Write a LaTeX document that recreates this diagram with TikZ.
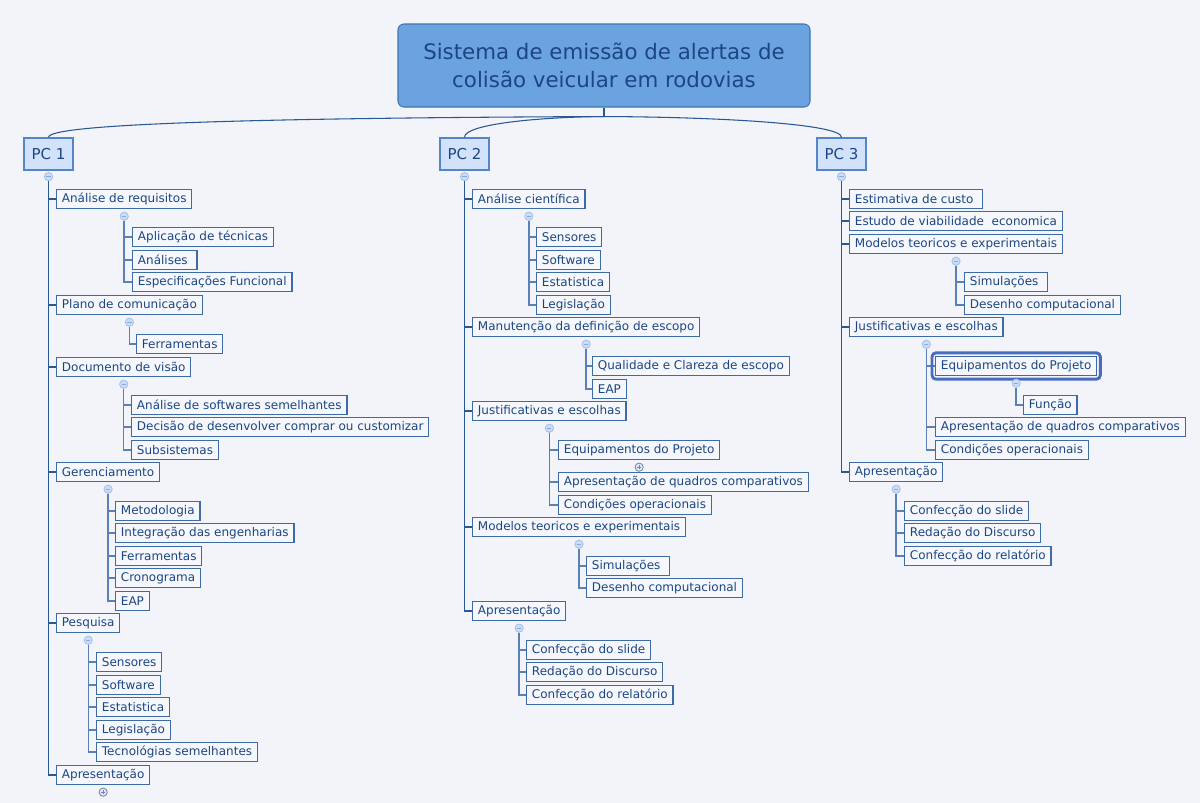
\documentclass[tikz,border=0pt]{standalone}
\usepackage{fontspec}
\setmainfont{DejaVu Sans}
\usetikzlibrary{calc}
\definecolor{bgc}{HTML}{F2F4FA}
\definecolor{txt}{HTML}{1C4683}
\definecolor{leafborder}{HTML}{3D6BA3}
\definecolor{leaffill}{HTML}{F5F7FC}
\definecolor{pcfill}{HTML}{D3E2FB}
\definecolor{pcborder}{HTML}{5585C2}
\definecolor{rootfill}{HTML}{6BA3E0}
\definecolor{rootborder}{HTML}{3F75B0}
\definecolor{lnc}{HTML}{2A5892}
\definecolor{lnlight}{HTML}{5A80B5}
\definecolor{togfill}{HTML}{CBDCF6}
\definecolor{togborder}{HTML}{A5C0EA}
\definecolor{togsign}{HTML}{8AAADB}
\definecolor{plusfill}{HTML}{E2E8F2}
\definecolor{plusborder}{HTML}{6F86AC}
\definecolor{hilite}{HTML}{4A6CC0}
\tikzset{
  leaf/.style={draw=leafborder, fill=leaffill, line width=0.9pt, text=txt,
    font=\fontsize{9}{11}\selectfont, anchor=west, inner xsep=4pt, inner ysep=0pt,
    minimum height=14.4pt},
  pcbox/.style={draw=pcborder, fill=pcfill, line width=1pt, text=txt,
    font=\fontsize{11.25}{13}\selectfont, minimum width=36.75pt, minimum height=24pt, inner sep=0pt},
  rootbox/.style={draw=rootborder, fill=rootfill, rounded corners=4.5pt, line width=0.8pt, text=txt,
    font=\fontsize{16}{21}\selectfont, minimum width=309pt, minimum height=62.25pt, align=center},
  tog/.style={circle, draw=togborder, fill=togfill, line width=0.6pt, inner sep=0pt, minimum size=6.2pt,
    path picture={\draw[togsign, line width=0.6pt] ([xshift=-1.6pt]path picture bounding box.center) -- ([xshift=1.6pt]path picture bounding box.center);}},
  plusc/.style={circle, draw=plusborder, fill=plusfill, line width=0.6pt, inner sep=0pt, minimum size=6.2pt,
    path picture={\draw[plusborder, line width=0.6pt] ([xshift=-1.7pt]path picture bounding box.center) -- ([xshift=1.7pt]path picture bounding box.center)
      ([yshift=-1.7pt]path picture bounding box.center) -- ([yshift=1.7pt]path picture bounding box.center);}},
  trunk/.style={draw=lnc, line width=1.4pt},
  branch/.style={draw=lnlight, line width=1.1pt},
  rootln/.style={draw=lnc, line width=0.8pt},
}
\begin{document}
\begin{tikzpicture}[x=0.75pt,y=-0.75pt]
\fill[bgc] (0,0) rectangle (1200,803);
\useasboundingbox (0,0) rectangle (1200,803);

% root and PCs
\node[rootbox] (root) at (604,65.5) {Sistema de emissão de alertas de\\colisão veicular em rodovias};
\node[pcbox] (pc1) at (48.5,154) {PC 1};
\node[pcbox] (pc2) at (464.5,154) {PC 2};
\node[pcbox] (pc3) at (841.5,154) {PC 3};
\draw[rootln] (root.south) -- ++(0,9) coordinate (rj);
\draw[rootln] (rj) .. controls (250,118) and (48,124) .. (pc1.north);
\draw[rootln] (rj) .. controls (540,117) and (464,124) .. (pc2.north);
\draw[rootln] (rj) .. controls (720,117) and (842,124) .. (pc3.north);

% ===== PC 1 =====
\node[tog] (t1) at ($(pc1.south)+(0,6)$) {};
\node[leaf] (a1) at (56,199) {Análise de requisitos};
\node[leaf] (a2) at (56,305) {Plano de comunicação};
\node[leaf] (a3) at (56,367) {Documento de visão};
\node[leaf] (a4) at (56,472) {Gerenciamento};
\node[leaf] (a5) at (56,623) {Pesquisa};
\node[leaf] (a6) at (56,775) {Apresentação};
\foreach \n in {a1,a2,a3,a4,a5,a6} \draw[trunk] (t1.south) |- (\n.west);
\node[plusc] (p16) at ($(a6.south)+(0,7)$) {};

\node[tog] (t11) at ($(a1.south)+(0,7)$) {};
\node[leaf] (a11) at (132,237) {Aplicação de técnicas};
\node[leaf] (a12) at (132,260) {Análises\kern3pt};
\node[leaf] (a13) at (132,282) {Especificações Funcional};
\foreach \n in {a11,a12,a13} \draw[branch] (t11.south) |- (\n.west);

\node[tog] (t12) at ($(a2.south)+(0,7)$) {};
\node[leaf] (a21) at (136,344) {Ferramentas};
\draw[branch] (t12.south) |- (a21.west);

\node[tog] (t13) at ($(a3.south)+(0,7)$) {};
\node[leaf] (a31) at (131,405) {Análise de softwares semelhantes};
\node[leaf] (a32) at (131,427) {Decisão de desenvolver comprar ou customizar};
\node[leaf] (a33) at (131,450) {Subsistemas};
\foreach \n in {a31,a32,a33} \draw[branch] (t13.south) |- (\n.west);

\node[tog] (t14) at ($(a4.south)+(0,7)$) {};
\node[leaf] (a41) at (115,511) {Metodologia};
\node[leaf] (a42) at (115,533) {Integração das engenharias};
\node[leaf] (a43) at (115,556) {Ferramentas};
\node[leaf] (a44) at (115,578) {Cronograma};
\node[leaf] (a45) at (115,601) {EAP};
\foreach \n in {a41,a42,a43,a44,a45} \draw[branch] (t14.south) |- (\n.west);

\node[tog] (t15) at ($(a5.south)+(0,7)$) {};
\node[leaf] (a51) at (96,662) {Sensores};
\node[leaf] (a52) at (96,685) {Software};
\node[leaf] (a53) at (96,707) {Estatistica};
\node[leaf] (a54) at (96,730) {Legislação};
\node[leaf] (a55) at (96,752) {Tecnológias semelhantes};
\foreach \n in {a51,a52,a53,a54,a55} \draw[branch] (t15.south) |- (\n.west);

% ===== PC 2 =====
\node[tog] (t2) at ($(pc2.south)+(0,6)$) {};
\node[leaf] (b1) at (472,199) {Análise científica};
\node[leaf] (b2) at (472,327) {Manutenção da definição de escopo};
\node[leaf] (b3) at (472,411) {Justificativas e escolhas};
\node[leaf] (b4) at (472,527) {Modelos teoricos e experimentais};
\node[leaf] (b5) at (472,611) {Apresentação};
\foreach \n in {b1,b2,b3,b4,b5} \draw[trunk] (t2.south) |- (\n.west);

\node[tog] (t21) at ($(b1.south)+(0,7)$) {};
\node[leaf] (b11) at (536,237) {Sensores};
\node[leaf] (b12) at (536,260) {Software};
\node[leaf] (b13) at (536,282) {Estatistica};
\node[leaf] (b14) at (536,305) {Legislação};
\foreach \n in {b11,b12,b13,b14} \draw[branch] (t21.south) |- (\n.west);

\node[tog] (t22) at ($(b2.south)+(0,7)$) {};
\node[leaf] (b21) at (592,366) {Qualidade e Clareza de escopo};
\node[leaf] (b22) at (592,389) {EAP};
\foreach \n in {b21,b22} \draw[branch] (t22.south) |- (\n.west);

\node[tog] (t23) at ($(b3.south)+(0,7)$) {};
\node[leaf] (b31) at (558,450) {Equipamentos do Projeto};
\node[leaf] (b32) at (558,482) {Apresentação de quadros comparativos};
\node[leaf] (b33) at (558,505) {Condições operacionais};
\foreach \n in {b31,b32,b33} \draw[branch] (t23.south) |- (\n.west);
\node[plusc] (p231) at ($(b31.south)+(0,7)$) {};

\node[tog] (t24) at ($(b4.south)+(0,7)$) {};
\node[leaf] (b41) at (586,566) {Simulações\kern3pt};
\node[leaf] (b42) at (586,588) {Desenho computacional};
\foreach \n in {b41,b42} \draw[branch] (t24.south) |- (\n.west);

\node[tog] (t25) at ($(b5.south)+(0,7)$) {};
\node[leaf] (b51) at (526,650) {Confecção do slide};
\node[leaf] (b52) at (526,672) {Redação do Discurso};
\node[leaf] (b53) at (526,695) {Confecção do relatório};
\foreach \n in {b51,b52,b53} \draw[branch] (t25.south) |- (\n.west);

% ===== PC 3 =====
\node[tog] (t3) at ($(pc3.south)+(0,6)$) {};
\node[leaf] (c1) at (849,199) {Estimativa de custo\kern3pt};
\node[leaf] (c2) at (849,221) {Estudo de viabilidade~~economica};
\node[leaf] (c3) at (849,244) {Modelos teoricos e experimentais};
\node[leaf] (c4) at (849,327) {Justificativas e escolhas};
\node[leaf] (c5) at (849,472) {Apresentação};
\foreach \n in {c1,c2,c3,c4,c5} \draw[trunk] (t3.south) |- (\n.west);

\node[tog] (t33) at ($(c3.south)+(0,7)$) {};
\node[leaf] (c31) at (964,282) {Simulações\kern3pt};
\node[leaf] (c32) at (964,305) {Desenho computacional};
\foreach \n in {c31,c32} \draw[branch] (t33.south) |- (\n.west);

\node[tog] (t34) at ($(c4.south)+(0,7)$) {};
\node[leaf] (c41) at (935,366) {Equipamentos do Projeto};
\node[leaf] (c42) at (935,427) {Apresentação de quadros comparativos};
\node[leaf] (c43) at (935,450) {Condições operacionais};
\foreach \n in {c41,c42,c43} \draw[branch] (t34.south) |- (\n.west);
\draw[hilite, line width=2.2pt, rounded corners=3pt] ($(c41.north west)+(-3,-3)$) rectangle ($(c41.south east)+(3,3)$);
\node[tog] (t341) at ($(c41.south)+(0,7)$) {};
\node[leaf] (c411) at (1023,405) {Função};
\draw[branch] (t341.south) |- (c411.west);

\node[tog] (t35) at ($(c5.south)+(0,7)$) {};
\node[leaf] (c51) at (904,511) {Confecção do slide};
\node[leaf] (c52) at (904,533) {Redação do Discurso};
\node[leaf] (c53) at (904,556) {Confecção do relatório};
\foreach \n in {c51,c52,c53} \draw[branch] (t35.south) |- (\n.west);
\end{tikzpicture}
\end{document}
